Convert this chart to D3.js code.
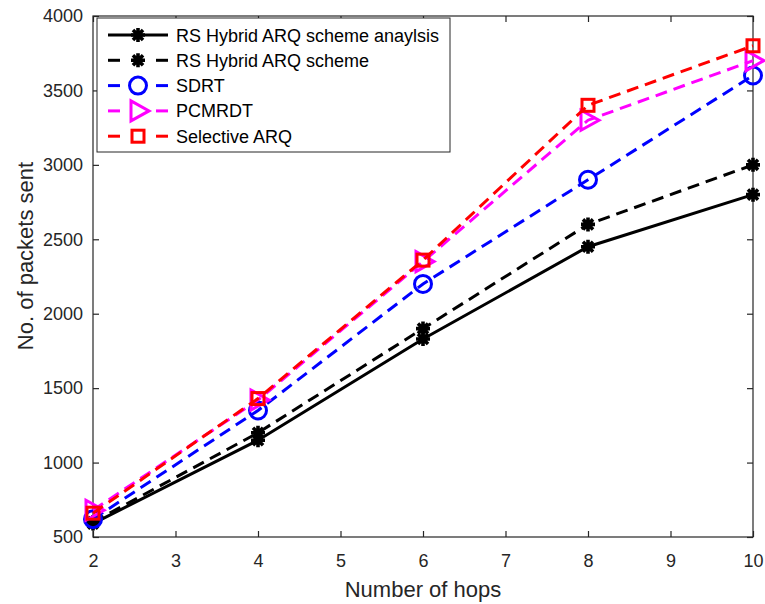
<!DOCTYPE html>
<html>
<head>
<meta charset="utf-8">
<script src="https://cdn.jsdelivr.net/npm/d3@7"></script>
<style>
  body { margin: 0; background: #fff; }
  svg { font-family: "Liberation Sans", Arial, sans-serif; }
</style>
</head>
<body>
<div id="chart"></div>
<script>
// values
const hops = [2, 4, 6, 8, 10];
const rsAnalysis = [590, 1150, 1830, 2450, 2800];
const rsScheme = [600, 1200, 1900, 2600, 3000];
const sdrt = [620, 1350, 2200, 2900, 3600];
const pcmrdt = [680, 1420, 2350, 3300, 3700];
const selectiveArq = [660, 1430, 2360, 3400, 3800];
const xTicks = [2, 3, 4, 5, 6, 7, 8, 9, 10];
const yTicks = [500, 1000, 1500, 2000, 2500, 3000, 3500, 4000];

const series = [
  {name: "RS Hybrid ARQ scheme anaylsis", values: rsAnalysis, color: "#000000", dash: null, marker: "star"},
  {name: "RS Hybrid ARQ scheme", values: rsScheme, color: "#000000", dash: "12,7", marker: "star"},
  {name: "SDRT", values: sdrt, color: "#0000ff", dash: "12,7", marker: "circle"},
  {name: "PCMRDT", values: pcmrdt, color: "#ff00ff", dash: "12,7", marker: "triangle"},
  {name: "Selective ARQ", values: selectiveArq, color: "#ff0000", dash: "12,7", marker: "square"}
];

const W = 765, H = 604;
const margin = {top: 16, right: 12, bottom: 67, left: 93};
const width = W - margin.left - margin.right;
const height = H - margin.top - margin.bottom;
const axisColor = "#262626";

const svg = d3.select("#chart").append("svg")
  .attr("width", W).attr("height", H);
const g = svg.append("g")
  .attr("transform", "translate(" + margin.left + "," + margin.top + ")");

const x = d3.scaleLinear().domain([2, 10]).range([0, width]);
const y = d3.scaleLinear().domain([500, 4000]).range([height, 0]);

// axes (box with inward ticks on all sides)
function styleAxis(sel, labels) {
  sel.select(".domain").remove();
  sel.selectAll(".tick line").attr("stroke", axisColor).attr("stroke-width", 1.2);
  sel.selectAll(".tick text").attr("fill", axisColor).style("font-size", labels ? "18px" : "0px");
}
g.append("g").attr("transform", "translate(0," + height + ")")
  .call(d3.axisBottom(x).tickValues(xTicks).tickSize(-6).tickPadding(17).tickFormat(d3.format("d")))
  .call(s => styleAxis(s, true));
g.append("g")
  .call(d3.axisTop(x).tickValues(xTicks).tickSize(-6).tickFormat(""))
  .call(s => styleAxis(s, false));
g.append("g")
  .call(d3.axisLeft(y).tickValues(yTicks).tickSize(-6).tickPadding(10).tickFormat(d3.format("d")))
  .call(s => styleAxis(s, true));
g.append("g").attr("transform", "translate(" + width + ",0)")
  .call(d3.axisRight(y).tickValues(yTicks).tickSize(-6).tickFormat(""))
  .call(s => styleAxis(s, false));
g.append("rect").attr("width", width).attr("height", height)
  .attr("fill", "none").attr("stroke", axisColor).attr("stroke-width", 1.2);

// axis titles
svg.append("text")
  .attr("x", margin.left + width / 2).attr("y", 597)
  .attr("text-anchor", "middle").attr("fill", axisColor)
  .style("font-size", "22px").text("Number of hops");
svg.append("text")
  .attr("transform", "translate(33,256) rotate(-90)")
  .attr("text-anchor", "middle").attr("fill", axisColor)
  .style("font-size", "22px").text("No. of packets sent");

// marker drawing
function drawMarker(sel, type, color) {
  if (type === "star") {
    const r = 7;
    const k = r * 0.72;
    sel.append("path")
      .attr("d", "M" + -r + ",0L" + r + ",0M0," + -r + "L0," + r +
        "M" + -k + "," + -k + "L" + k + "," + k +
        "M" + -k + "," + k + "L" + k + "," + -k)
      .attr("stroke", color).attr("stroke-width", 3.6).attr("fill", "none");
  } else if (type === "circle") {
    sel.append("circle").attr("r", 8.5)
      .attr("fill", "none").attr("stroke", color).attr("stroke-width", 3);
  } else if (type === "triangle") {
    sel.append("path").attr("d", "M-7,-10L11,0L-7,10Z")
      .attr("fill", "none").attr("stroke", color).attr("stroke-width", 3);
  } else if (type === "square") {
    sel.append("rect").attr("x", -6).attr("y", -6).attr("width", 12).attr("height", 12)
      .attr("fill", "none").attr("stroke", color).attr("stroke-width", 3);
  }
}

const line = d3.line().x(d => x(d[0])).y(d => y(d[1]));

series.forEach(s => {
  const pts = hops.map((h, i) => [h, s.values[i]]);
  g.append("path").datum(pts)
    .attr("d", line)
    .attr("fill", "none")
    .attr("stroke", s.color)
    .attr("stroke-width", 3)
    .attr("stroke-dasharray", s.dash);
  pts.forEach(p => {
    const m = g.append("g").attr("transform", "translate(" + x(p[0]) + "," + y(p[1]) + ")");
    drawMarker(m, s.marker, s.color);
  });
});

// legend
const legend = svg.append("g").attr("transform", "translate(97,18)");
legend.append("rect").attr("width", 353).attr("height", 134)
  .attr("fill", "#fff").attr("stroke", axisColor).attr("stroke-width", 1);
series.forEach((s, i) => {
  const ly = 17 + i * 25.3;
  const row = legend.append("g").attr("transform", "translate(0," + ly + ")");
  const segs = s.dash ? [[11, 23], [59, 71]] : [[11, 71]];
  segs.forEach(sg => {
    row.append("line").attr("x1", sg[0]).attr("x2", sg[1]).attr("y1", 0).attr("y2", 0)
      .attr("stroke", s.color).attr("stroke-width", 3);
  });
  const m = row.append("g").attr("transform", "translate(41,0)");
  drawMarker(m, s.marker, s.color);
  row.append("text").attr("x", 79).attr("y", 6.5)
    .attr("fill", "#000").style("font-size", "18px").text(s.name);
});
</script>
</body>
</html>
